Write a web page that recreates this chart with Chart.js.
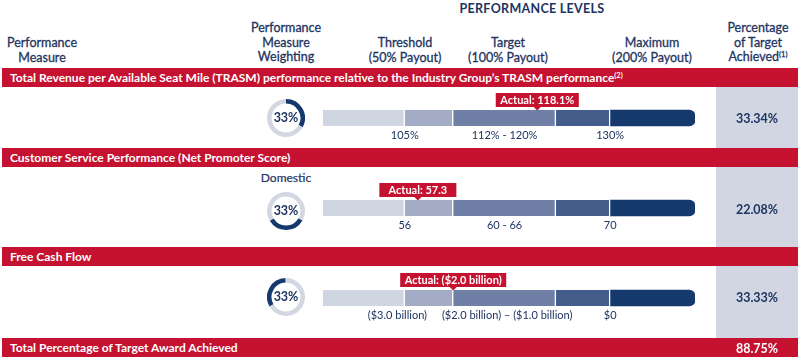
<!DOCTYPE html>
<html>
<head>
<meta charset="utf-8">
<script src="https://cdn.jsdelivr.net/npm/chart.js@4.4.0/dist/chart.umd.min.js"></script>
<style>
  body { margin: 0; background: #fff; font-family: Lato, "Open Sans", sans-serif; color: #1d3461; }
  #wrap { position: relative; width: 800px; height: 360px; overflow: hidden; }
  .hdr { position: absolute; transform: translateX(-50%); text-align: center; white-space: nowrap; font-size: 12.5px; line-height: 14.5px; -webkit-text-stroke: 0.3px #1d3461; }
  .title { position: absolute; left: 532px; top: 1px; transform: translateX(-50%); font-size: 12.5px; font-weight: 700; letter-spacing: 0.3px; line-height: 15px; white-space: nowrap; }
  .band { position: absolute; left: 2px; width: 796px; height: 19px; background: #c41230; color: #fff; font-weight: 700; font-size: 12px; line-height: 19px; padding-left: 8px; box-sizing: border-box; white-space: nowrap; }
  .band sup, .hdr sup { font-size: 7.5px; line-height: 0; vertical-align: 4px; }
  .gray { position: absolute; left: 716px; top: 87px; width: 82px; height: 252px; background: #d2d6e3; }
  .pct { position: absolute; left: 757px; transform: translate(-50%, -50%); font-weight: 700; font-size: 12.5px; white-space: nowrap; }
  .ring { position: absolute; width: 38px; height: 38px; }
  .ring span { position: absolute; left: 0; top: 0; width: 38px; line-height: 38px; text-align: center; font-weight: 700; font-size: 12.5px; }
  .sub { position: absolute; transform: translate(-50%, -50%); font-size: 12px; white-space: nowrap; -webkit-text-stroke: 0.2px #1d3461; }
  #barBox { position: absolute; left: 0; top: 73px; width: 800px; height: 270px; }
</style>
</head>
<body>
<div id="wrap">
  <div class="gray"></div>
  <div class="title">PERFORMANCE LEVELS</div>
  <div class="hdr" style="left:42px;top:36px">Performance<br>Measure</div>
  <div class="hdr" style="left:286px;top:21px">Performance<br>Measure<br>Weighting</div>
  <div class="hdr" style="left:405px;top:36px">Threshold<br>(50% Payout)</div>
  <div class="hdr" style="left:508px;top:36px">Target<br>(100% Payout)</div>
  <div class="hdr" style="left:652px;top:36px">Maximum<br>(200% Payout)</div>
  <div class="hdr" style="left:758px;top:21px">Percentage<br>of Target<br>Achieved<sup>(1)</sup></div>

  <div class="band" id="band0" style="top:68px"></div>
  <div class="band" id="band1" style="top:148px"></div>
  <div class="band" id="band2" style="top:247px"></div>
  <div class="band" id="band3" style="top:338px"></div>

  <div class="sub" style="left:286px;top:177px">Domestic</div>

  <div id="barBox"><canvas id="levelsChart"></canvas></div>
</div>

<script>
// rows of the table
const measures = [
  'Total Revenue per Available Seat Mile (TRASM) performance relative to the Industry Group\u2019s TRASM performance',
  'Customer Service Performance (Net Promoter Score)',
  'Free Cash Flow'
];
const measureNotes = ['(2)', '', ''];
const weightings = [33, 33, 33];
const achieved = ['33.34%', '22.08%', '33.33%'];
const totalLabel = 'Total Percentage of Target Award Achieved';
const totalAchieved = '88.75%';

// payout scale, drawn as 5 shaded steps along each bar (0 - 100 = bar length)
const bandEdges = [0, 22, 35, 62.6, 77.2, 100];
const thresholdAt = [22, 22, 20];
const targetAt = [48.8, 48.8, 49.5];
const maximumAt = [77.2, 77.2, 77.2];
const thresholdLabels = ['105%', '56', '($3.0 billion)'];
const targetLabels = ['112% - 120%', '60 - 66', '($2.0 billion) \u2013 ($1.0 billion)'];
const maximumLabels = ['130%', '70', '$0'];
const actualLabels = ['Actual: 118.1%', 'Actual: 57.3', 'Actual: ($2.0 billion)'];
const actualPositions = [57.6, 25.5, 35];

const red = '#c41230';
const navy = '#1d3461';
const stepColors = ['#d0d5e2', '#a4acc5', '#6f7fa6', '#435c8a', '#15396d'];
const ringStart = [0, 120, 240];
const ringY = [117.5, 210.5, 297];

// html text bits
measures.forEach(function (m, i) {
  document.getElementById('band' + i).innerHTML = m + (measureNotes[i] ? '<sup>' + measureNotes[i] + '</sup>' : '');
});
document.getElementById('band3').innerHTML = totalLabel;

const wrap = document.getElementById('wrap');
achieved.concat([totalAchieved]).forEach(function (p, i) {
  var d = document.createElement('div');
  d.className = 'pct';
  d.style.top = [117.5, 209, 297, 348][i] + 'px';
  if (i === 3) d.style.color = '#fff';
  d.textContent = p;
  wrap.appendChild(d);
});

// weighting rings
weightings.forEach(function (w, i) {
  var box = document.createElement('div');
  box.className = 'ring';
  box.style.left = (286 - 19) + 'px';
  box.style.top = (ringY[i] - 19) + 'px';
  box.innerHTML = '<canvas width="38" height="38"></canvas><span>' + w + '%</span>';
  wrap.appendChild(box);
  new Chart(box.querySelector('canvas'), {
    type: 'doughnut',
    data: {
      datasets: [{
        data: [w, 100 - w],
        backgroundColor: ['#15396d', '#d3d7e2'],
        borderWidth: 0
      }]
    },
    options: {
      responsive: false,
      animation: false,
      events: [],
      cutout: '76%',
      rotation: ringStart[i],
      plugins: { legend: { display: false }, tooltip: { enabled: false } }
    }
  });
});

// tick labels under bars + the red "Actual" callouts
const levelText = {
  id: 'levelText',
  afterDatasetsDraw: function (chart) {
    var ctx = chart.ctx, x = chart.scales.x, y = chart.scales.y;
    ctx.save();
    ctx.textAlign = 'center';
    ctx.textBaseline = 'middle';
    measures.forEach(function (m, i) {
      var yc = y.getPixelForValue(i);
      ctx.font = '11px Lato';
      ctx.fillStyle = navy;
      ctx.fillText(thresholdLabels[i], x.getPixelForValue(thresholdAt[i]), yc + 17);
      ctx.fillText(targetLabels[i], x.getPixelForValue(targetAt[i]), yc + 17);
      ctx.fillText(maximumLabels[i], x.getPixelForValue(maximumAt[i]), yc + 17);

      var px = x.getPixelForValue(actualPositions[i]);
      ctx.font = 'bold 11px Lato';
      var w = Math.max(77, ctx.measureText(actualLabels[i]).width + 9);
      ctx.fillStyle = red;
      ctx.fillRect(px - w / 2, yc - 25, w, 14);
      ctx.beginPath();
      ctx.moveTo(px - 4, yc - 11.5);
      ctx.lineTo(px + 4, yc - 11.5);
      ctx.lineTo(px, yc - 7.5);
      ctx.closePath();
      ctx.fill();
      ctx.fillStyle = '#fff';
      ctx.fillText(actualLabels[i], px, yc - 17.5);
    });
    ctx.restore();
  }
};

new Chart(document.getElementById('levelsChart'), {
  type: 'bar',
  data: {
    labels: measures,
    datasets: stepColors.map(function (c, k) {
      return {
        data: measures.map(function () { return [bandEdges[k], bandEdges[k + 1]]; }),
        backgroundColor: c,
        borderColor: '#fff',
        borderWidth: k < 4 ? { right: 1.5 } : 0,
        borderRadius: k === 4 ? { topRight: 6, bottomRight: 6 } : 0,
        barThickness: 16,
        grouped: false
      };
    })
  },
  options: {
    indexAxis: 'y',
    responsive: true,
    maintainAspectRatio: false,
    animation: false,
    events: [],
    layout: { padding: { left: 323, right: 105, top: 0, bottom: 0 } },
    scales: {
      x: { display: false, min: 0, max: 100 },
      y: { display: false }
    },
    plugins: { legend: { display: false }, tooltip: { enabled: false } }
  },
  plugins: [levelText]
});
</script>
</body>
</html>
